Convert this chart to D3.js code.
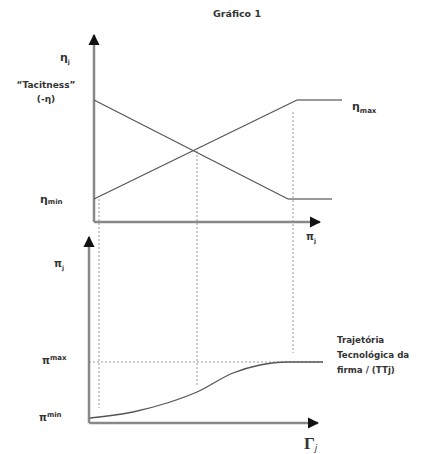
<!DOCTYPE html>
<html>
<head>
<meta charset="utf-8">
<title>Gráfico 1</title>
<script src="https://d3js.org/d3.v7.min.js"></script>
<style>
  body { margin: 0; background: #fff; }
  text, tspan { font-family: "DejaVu Sans", sans-serif; fill: #333; }
</style>
</head>
<body>
<div id="chart"></div>
<script>
// upper panel: tacitness falls, eta rises with pi
var tacitLine = [ { x: 5, y: 122 }, { x: 199, y: 23 }, { x: 243, y: 23 } ];
var etaLine = [ { x: 5, y: 23 }, { x: 208, y: 122 }, { x: 253, y: 122 } ];
// lower panel: technological trajectory of the firm
var trajX = [1, 44, 78, 108, 144, 171, 198, 234];
var trajY = [5, 11, 20, 31, 50, 58, 61, 61];
var piMax = 61;
// dashed guides: x, top start, bottom end
var guides = [ { x: 10, top: 23, bot: 15 }, { x: 108, top: 71, bot: 38 }, { x: 204, top: 110, bot: 70 } ];

var width = 440, height = 454;

var svg = d3.select("#chart").append("svg")
  .attr("width", width)
  .attr("height", height);

var x = d3.scaleLinear().domain([0, 230]).range([89, 319]);
var yTop = d3.scaleLinear().domain([0, 187]).range([222, 35]);
var yBot = d3.scaleLinear().domain([0, 186]).range([423, 237]);

svg.append("defs").append("marker")
  .attr("id", "arrow")
  .attr("viewBox", "0 0 10 10")
  .attr("refX", 9).attr("refY", 5)
  .attr("markerWidth", 4.5).attr("markerHeight", 4.5)
  .attr("markerUnits", "strokeWidth")
  .attr("orient", "auto")
  .append("path").attr("d", "M0,0L10,5L0,10z").attr("fill", "#111");

// guides
svg.selectAll(".guide").data(guides).enter().append("line")
  .attr("x1", function(d) { return x(d.x); })
  .attr("x2", function(d) { return x(d.x); })
  .attr("y1", function(d) { return yTop(d.top); })
  .attr("y2", function(d) { return yBot(d.bot); })
  .attr("stroke", "#999").attr("stroke-width", 1)
  .attr("stroke-dasharray", "2,2");

svg.append("line")
  .attr("x1", x(0)).attr("x2", x(236))
  .attr("y1", yBot(piMax)).attr("y2", yBot(piMax))
  .attr("stroke", "#999").attr("stroke-dasharray", "2,2");

// axes
function axis(x1, y1, x2, y2) {
  svg.append("line")
    .attr("x1", x1).attr("y1", y1).attr("x2", x2).attr("y2", y2)
    .attr("stroke", "#888").attr("stroke-width", 2.5)
    .attr("marker-end", "url(#arrow)");
}
axis(x(5), yTop(0), x(5), yTop(187));
axis(x(5), yTop(0), x(231), yTop(0));
axis(x(0), yBot(0), x(0), yBot(186));
axis(x(0), yBot(0), x(229), yBot(0));

var line = d3.line()
  .x(function(d) { return x(d.x); })
  .y(function(d) { return yTop(d.y); });

[tacitLine, etaLine].forEach(function(data) {
  svg.append("path").datum(data.slice(0, 2))
    .attr("d", line).attr("fill", "none")
    .attr("stroke", "#555").attr("stroke-width", 1.2);
  svg.append("path").datum(data.slice(1))
    .attr("d", line).attr("fill", "none")
    .attr("stroke", "#777").attr("stroke-width", 1.6);
});

var traj = trajX.map(function(v, i) { return { x: v, y: trajY[i] }; });
svg.append("path").datum(traj)
  .attr("fill", "none").attr("stroke", "#555").attr("stroke-width", 1.3)
  .attr("d", d3.line().curve(d3.curveMonotoneX)
    .x(function(d) { return x(d.x); })
    .y(function(d) { return yBot(d.y); }));

// labels
function label(tx, ty, s, size, weight) {
  return svg.append("text").attr("x", tx).attr("y", ty)
    .attr("font-size", size || 8).attr("font-weight", weight || "bold").text(s);
}
function sub(t, s, dy, size) {
  t.append("tspan").attr("dy", dy).attr("font-size", size || 6).text(s);
}

label(213, 17, "Gráfico 1", 9.5);
sub(label(60, 61, "η", 11), "j", 3);
label(46, 88, "“Tacitness”", 9).attr("text-anchor", "middle");
label(46, 102, "(-η)", 9).attr("text-anchor", "middle");
sub(label(352, 110, "η", 11), "max", 3, 7);
sub(label(40, 203, "η", 11), "min", 1, 7);
sub(label(306, 240, "π", 10), "j", 3);
sub(label(54, 267, "π", 10), "j", 3);
sub(label(42, 364, "π", 10), "max", -4, 7);
sub(label(39, 421, "π", 10), "min", -4, 7);
label(337, 343, "Trajetória", 8.7);
label(337, 358, "Tecnológica da", 8.7);
label(337, 373, "firma / (TTj)", 8.7);
var g = label(304, 449, "Γ", 17, "bold").style("font-family", "Liberation Serif, serif");
g.append("tspan").attr("dy", 2).attr("font-size", 9).attr("font-style", "italic").attr("font-weight", "normal").text("j");
</script>
</body>
</html>
